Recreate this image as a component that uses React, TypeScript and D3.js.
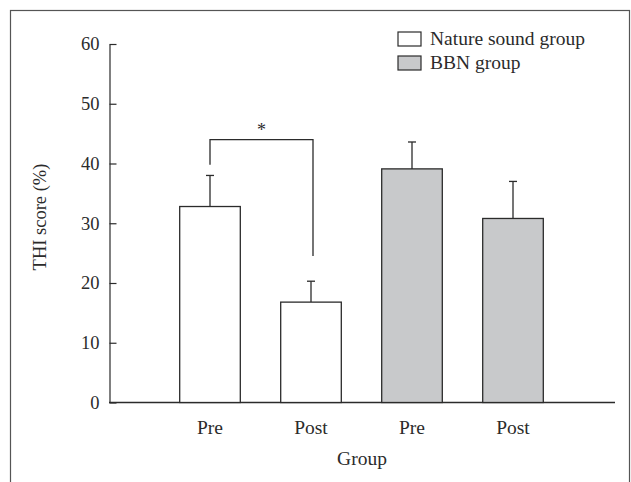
import React, { useEffect, useRef } from 'react';
import * as d3 from 'd3';

// Chart values
const categories = ['Pre', 'Post', 'Pre', 'Post'];
const groups = ['Nature sound group', 'Nature sound group', 'BBN group', 'BBN group'];
const means = [32.8, 16.8, 39.1, 30.8];
const errors = [5.2, 3.5, 4.5, 6.2];
const yTicks = [0, 10, 20, 30, 40, 50, 60];
const legendLabels = ['Nature sound group', 'BBN group'];
const legendColors = ['#ffffff', '#c8c9cb'];
// significance bracket (top, left drop end, right drop end) in score units
const bracket = [44, 39.8, 24.5];

const App = () => {
  const ref = useRef<SVGSVGElement>(null);

  useEffect(() => {
    const svg = d3.select(ref.current);
    svg.selectAll('*').remove();

    const font = '"Liberation Serif", "DejaVu Serif", serif';
    const ink = '#2b2b2b';

    // outer frame
    svg.append('rect')
      .attr('x', 10.5).attr('y', 10.5)
      .attr('width', 619).attr('height', 490)
      .attr('fill', 'none').attr('stroke', '#555').attr('stroke-width', 1.2);

    const yScale = d3.scaleLinear().domain([0, 60]).range([402.5, 44]);

    const xScale = d3.scaleBand<number>()
      .domain(d3.range(categories.length))
      .range([109, 614])
      .paddingInner(0.4)
      .paddingOuter(0.7);

    const color = d3.scaleOrdinal<string, string>().domain(legendLabels).range(legendColors);

    // y axis
    const yAxis = d3.axisLeft(yScale).tickValues(yTicks).tickSizeInner(-7).tickSizeOuter(0);
    const yg = svg.append('g').attr('transform', 'translate(109.5,0)').call(yAxis);
    yg.attr('font-size', null).attr('font-family', null);
    yg.select('.domain').attr('stroke', ink).attr('stroke-width', 1.2);
    yg.selectAll('line').attr('stroke', ink).attr('stroke-width', 1.2);
    yg.selectAll('text')
      .attr('x', -10)
      .style('font-family', font).style('font-size', '18.5px').attr('fill', ink);

    // x axis line
    svg.append('line')
      .attr('x1', 109).attr('x2', 615)
      .attr('y1', yScale(0)).attr('y2', yScale(0))
      .attr('stroke', ink).attr('stroke-width', 1.3);

    // bars
    svg.append('g').selectAll('rect')
      .data(means)
      .enter()
      .append('rect')
      .attr('x', (d, i) => xScale(i)!)
      .attr('y', (d) => yScale(d))
      .attr('width', xScale.bandwidth())
      .attr('height', (d) => yScale(0) - yScale(d))
      .attr('fill', (d, i) => color(groups[i]))
      .attr('stroke', ink)
      .attr('stroke-width', 1.3);

    // error bars
    const eg = svg.append('g').attr('stroke', ink).attr('stroke-width', 1.3);
    means.forEach((m, i) => {
      const cx = xScale(i)! + xScale.bandwidth() / 2;
      eg.append('line').attr('x1', cx).attr('x2', cx).attr('y1', yScale(m)).attr('y2', yScale(m + errors[i]));
      eg.append('line').attr('x1', cx - 4).attr('x2', cx + 4).attr('y1', yScale(m + errors[i])).attr('y2', yScale(m + errors[i]));
    });

    // significance bracket
    const bx1 = xScale(0)! + xScale.bandwidth() / 2;
    const bx2 = xScale(1)! + xScale.bandwidth() / 2 + 2;
    svg.append('path')
      .attr('d', d3.line()([
        [bx1, yScale(bracket[1])],
        [bx1, yScale(bracket[0])],
        [bx2, yScale(bracket[0])],
        [bx2, yScale(bracket[2])],
      ]))
      .attr('fill', 'none').attr('stroke', ink).attr('stroke-width', 1.3);
    svg.append('text')
      .attr('x', (bx1 + bx2) / 2).attr('y', yScale(bracket[0]) - 4)
      .attr('text-anchor', 'middle')
      .style('font-family', font).style('font-size', '18px').attr('fill', ink)
      .text('*');

    // category labels
    svg.append('g').selectAll('text')
      .data(categories)
      .enter()
      .append('text')
      .attr('x', (d, i) => xScale(i)! + xScale.bandwidth() / 2)
      .attr('y', 434)
      .attr('text-anchor', 'middle')
      .style('font-family', font).style('font-size', '19.5px').attr('fill', ink)
      .text((d) => d);

    // axis titles
    svg.append('text')
      .attr('x', 362).attr('y', 465)
      .attr('text-anchor', 'middle')
      .style('font-family', font).style('font-size', '19.5px').attr('fill', ink)
      .text('Group');
    svg.append('text')
      .attr('transform', 'translate(46,' + 217 + ') rotate(-90)')
      .attr('text-anchor', 'middle')
      .style('font-family', font).style('font-size', '18.5px').attr('fill', ink)
      .text('THI score (%)');

    // legend
    const lg = svg.append('g').selectAll('g')
      .data(legendLabels)
      .enter()
      .append('g')
      .attr('transform', (d, i) => 'translate(398,' + (32 + i * 24) + ')');
    lg.append('rect')
      .attr('width', 23).attr('height', 14)
      .attr('fill', (d) => color(d))
      .attr('stroke', ink).attr('stroke-width', 1.2);
    lg.append('text')
      .attr('x', 32).attr('y', 13)
      .style('font-family', font).style('font-size', '19.5px').attr('fill', ink)
      .text((d) => d);
  }, []);

  return (
    <svg ref={ref} width={631} height={482} style={{ position: 'absolute', left: 0, top: 0, background: '#fff' }} />
  );
};

export default App;
